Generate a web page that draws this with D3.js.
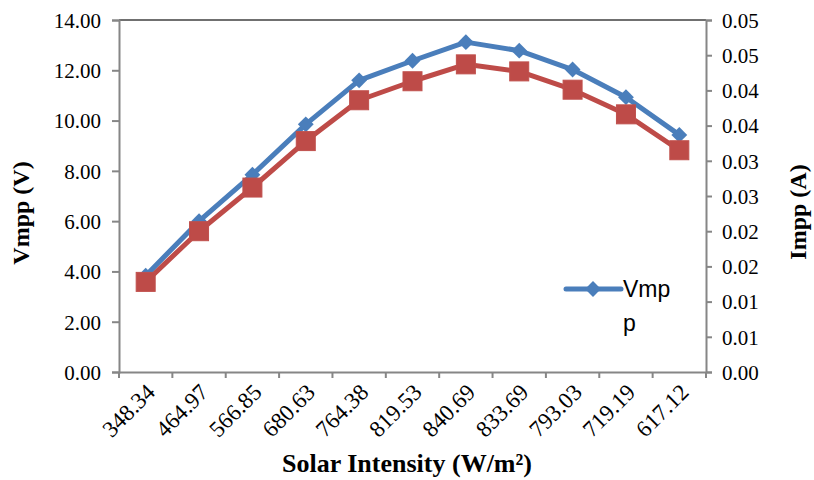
<!DOCTYPE html>
<html>
<head>
<meta charset="utf-8">
<script src="https://cdn.jsdelivr.net/npm/d3@7"></script>
<style>
  body { margin: 0; background: #fff; }
  .tick text { font-family: "Liberation Serif", "Times New Roman", serif; font-size: 21px; fill: #000; }
  .xaxis .tick text { font-size: 23px; }
  .axis path, .axis line { stroke: #868686; stroke-width: 2; }
  .title { font-family: "Liberation Serif", "Times New Roman", serif; font-weight: bold; font-size: 24px; }
</style>
</head>
<body>
<div id="chart"></div>
<script>
// data
var intensity = ["348.34", "464.97", "566.85", "680.63", "764.38", "819.53", "840.69", "833.69", "793.03", "719.19", "617.12"];
var vmpp = [3.83, 6.0, 7.85, 9.85, 11.6, 12.38, 13.12, 12.78, 12.03, 10.93, 9.43];
var impp = [0.0128, 0.0200, 0.0262, 0.0328, 0.0386, 0.0413, 0.0437, 0.0427, 0.0401, 0.0366, 0.0315];
var leftTicks = [0, 2, 4, 6, 8, 10, 12, 14];
var rightTicks = [0, 0.005, 0.01, 0.015, 0.02, 0.025, 0.03, 0.035, 0.04, 0.045, 0.05];
var rightTickLabels = ["0.00", "0.01", "0.01", "0.02", "0.02", "0.03", "0.03", "0.04", "0.04", "0.05", "0.05"];

var blue = "#4a7ebb", red = "#be4b48";

var svg = d3.select("#chart").append("svg")
    .attr("width", 814)
    .attr("height", 480);

var plotL = 119, plotR = 706, plotT = 20, plotB = 372;

var x = d3.scaleBand().domain(intensity).range([plotL, plotR]).padding(0);
var yL = d3.scaleLinear().domain([0, 14]).range([plotB, plotT]);
var yR = d3.scaleLinear().domain([0, 0.05]).range([plotB, plotT]);
var cx = d => x(d) + x.bandwidth() / 2;

// top border of plot area
svg.append("line")
   .attr("x1", plotL).attr("x2", plotR)
   .attr("y1", plotT).attr("y2", plotT)
   .attr("stroke", "#404040").attr("stroke-width", 1.5);

// left axis
svg.append("g")
   .attr("class", "axis")
   .attr("transform", "translate(" + plotL + ",0)")
   .call(d3.axisLeft(yL).tickValues(leftTicks).tickFormat(d3.format(".2f")).tickSize(7).tickPadding(11))
   .call(g => g.selectAll(".tick text").attr("dy", "0.35em"));

// right axis
svg.append("g")
   .attr("class", "axis")
   .attr("transform", "translate(" + plotR + ",0)")
   .call(d3.axisRight(yR).tickValues(rightTicks).tickFormat((d, i) => rightTickLabels[i]).tickSize(6).tickPadding(10))
   .call(g => g.selectAll(".tick text").attr("dy", "0.35em"));

// bottom axis, ticks between categories
var xAxis = svg.append("g")
   .attr("class", "axis xaxis")
   .attr("transform", "translate(0," + plotB + ")")
   .call(d3.axisBottom(x).tickSize(0).tickSizeOuter(0).tickPadding(0));

xAxis.selectAll(".tick text")
   .attr("text-anchor", "end")
   .attr("transform", "translate(5,16) rotate(-45)")
   .attr("dy", "0.35em");

xAxis.selectAll(".sep")
   .data(intensity.concat(["end"]))
   .enter().append("line")
   .attr("class", "sep")
   .attr("x1", (d, i) => i < intensity.length ? x(d) : plotR)
   .attr("x2", (d, i) => i < intensity.length ? x(d) : plotR)
   .attr("y1", 0).attr("y2", 6);

// Impp series (right axis)
var lineR = d3.line().x((d, i) => cx(intensity[i])).y(d => yR(d));
svg.append("path")
   .datum(impp)
   .attr("fill", "none")
   .attr("stroke", red)
   .attr("stroke-width", 5)
   .attr("stroke-linejoin", "round")
   .attr("d", lineR);

// Vmpp series (left axis)
var lineL = d3.line().x((d, i) => cx(intensity[i])).y(d => yL(d));
svg.append("path")
   .datum(vmpp)
   .attr("fill", "none")
   .attr("stroke", blue)
   .attr("stroke-width", 5)
   .attr("stroke-linejoin", "round")
   .attr("d", lineL);

var diamond = d3.symbol().type(d3.symbolDiamond2).size(160);
svg.selectAll(".dia")
   .data(vmpp)
   .enter().append("path")
   .attr("class", "dia")
   .attr("d", diamond)
   .attr("transform", (d, i) => "translate(" + cx(intensity[i]) + "," + yL(d) + ")")
   .attr("fill", blue);

svg.selectAll(".sq")
   .data(impp)
   .enter().append("rect")
   .attr("class", "sq")
   .attr("x", (d, i) => cx(intensity[i]) - 9.5)
   .attr("y", d => yR(d) - 9.5)
   .attr("width", 19)
   .attr("height", 19)
   .attr("fill", red)
   .attr("stroke", "#c0504d")
   .attr("stroke-width", 1);

// legend
var lg = svg.append("g").attr("transform", "translate(566,289)");
lg.append("line").attr("x1", 0).attr("x2", 55).attr("y1", 0).attr("y2", 0)
  .attr("stroke", blue).attr("stroke-width", 5).attr("stroke-linecap", "round");
lg.append("path").attr("d", diamond).attr("transform", "translate(27,0)").attr("fill", blue);
var lt = lg.append("text")
  .attr("font-family", "Liberation Sans, Arial, sans-serif")
  .attr("font-size", 23)
  .attr("fill", "#000");
lt.append("tspan").attr("x", 57).attr("y", 8).text("Vmp");
lt.append("tspan").attr("x", 57).attr("y", 42).text("p");

// axis titles
svg.append("text")
   .attr("class", "title")
   .attr("text-anchor", "middle")
   .attr("transform", "translate(29,213) rotate(-90)")
   .text("Vmpp (V)");

svg.append("text")
   .attr("class", "title")
   .attr("text-anchor", "middle")
   .attr("transform", "translate(806,212) rotate(-90)")
   .text("Impp (A)");

svg.append("text")
   .attr("class", "title")
   .attr("text-anchor", "middle")
   .style("font-size", "26px")
   .attr("x", 407)
   .attr("y", 472)
   .text("Solar Intensity (W/m²)");
</script>
</body>
</html>
